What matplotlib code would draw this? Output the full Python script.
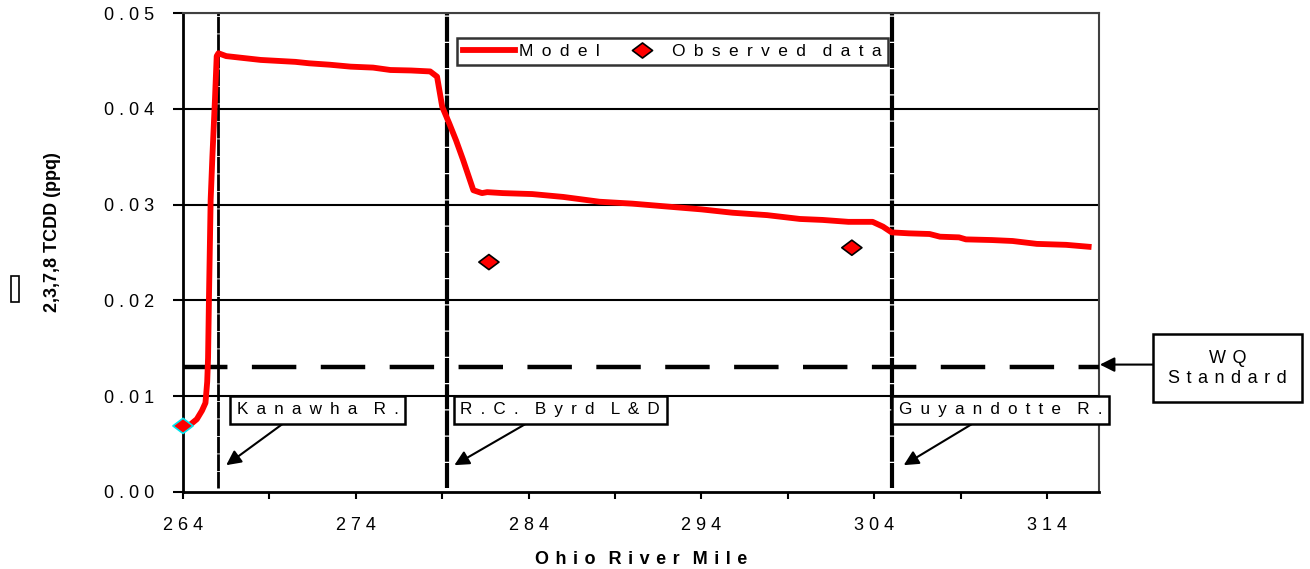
import numpy as np
import matplotlib
matplotlib.use('Agg')
import matplotlib.pyplot as plt
from matplotlib.path import Path
from matplotlib.patches import Rectangle

plt.rcParams['font.family'] = ['Liberation Sans', 'DejaVu Sans']

# model profile
model_mile = [264.0, 264.4, 264.8, 265.1, 265.3, 265.4, 265.45, 265.5, 265.6, 265.7,
              265.85, 265.95, 266.05, 266.5, 267.5, 268.5, 269.5, 270.5, 271.3, 272.5,
              273.7, 275.0, 276.0, 277.2, 278.3, 278.7, 279.0, 279.4, 279.8, 280.2,
              280.8, 281.3, 281.6, 282.5, 284.2, 286.0, 288.1, 290.0, 292.0, 294.0,
              295.8, 297.8, 299.7, 301.0, 302.5, 303.9, 304.5, 305.0, 306.0, 307.2,
              307.8, 308.9, 309.3, 310.8, 312.0, 313.4, 315.1, 316.4]
model_val = [0.0069, 0.0070, 0.0076, 0.0085, 0.0093, 0.0115, 0.0140, 0.0200, 0.0305, 0.0350,
             0.0410, 0.0455, 0.0458, 0.0455, 0.0453, 0.0451, 0.0450, 0.0449, 0.04475, 0.0446,
             0.0444, 0.0443, 0.04405, 0.0440, 0.0439, 0.04335, 0.0402, 0.0385, 0.0367, 0.0347,
             0.0315, 0.0312, 0.0313, 0.0312, 0.0311, 0.0308, 0.0303, 0.0301, 0.0298, 0.0295,
             0.02915, 0.0289, 0.0285, 0.0284, 0.0282, 0.0282, 0.0277, 0.0271, 0.0270, 0.02693,
             0.02665, 0.02658, 0.02637, 0.0263, 0.0262, 0.0259, 0.0258, 0.0256]

obs_mile = [264.0, 281.7, 302.7]
obs_val = [0.0069, 0.0240, 0.0255]
obs_edge = ['#00e5ee', 'black', 'black']

wq_standard = 0.013
river_mile = [266.0, 279.3, 305.0]
river_lw = [2.0, 3.0, 3.0]
river_names = ['Kanawha R.', 'R.C. Byrd L&D', 'Guyandotte R.']
label_pos = [(267.1, 0.0086), (280.05, 0.0086), (305.4, 0.0086)]
arrow_from = [(271.2, 0.0090), (284.3, 0.0076), (310.3, 0.0078)]
arrow_to = [(266.5, 0.0028), (279.7, 0.0028), (305.7, 0.0028)]

x_ticks = np.arange(264, 316, 5)
y_ticks = [0.0, 0.01, 0.02, 0.03, 0.04, 0.05]

GAP = ' \u2009'
NARROW = ' \u200a'


def spaced(s, gap=GAP):
    # wide letter spacing like the original chart
    words = s.split(' ')
    return (gap + gap).join(gap.join(w) for w in words)


# flat diamond like the original marker
diamond = Path([(-1, 0), (0, 0.75), (1, 0), (0, -0.75), (-1, 0)],
               [Path.MOVETO, Path.LINETO, Path.LINETO, Path.LINETO, Path.CLOSEPOLY])

fig = plt.figure(figsize=(13.1, 5.69), dpi=100)
ax = fig.add_axes([183/1310, 1-492/569, 916/1310, 479/569])

for v in y_ticks[1:]:
    ax.axhline(v, color='black', lw=1.5, zorder=1)

for m, lw in zip(river_mile, river_lw):
    ax.plot([m, m], [0.0004, 0.05], color='black', lw=lw,
            linestyle=(0, (6, 0.3)), zorder=2)

ax.plot([264, 317], [wq_standard, wq_standard], color='black', lw=3.2,
        linestyle=(0, (10, 5.5)), zorder=3)

ax.plot(model_mile, model_val, color='red', lw=4.2, solid_joinstyle='round',
        zorder=4, label=spaced('Model'))
ax.scatter(obs_mile, obs_val, marker=diamond, s=14.5**2, facecolor='red',
           edgecolors=obs_edge, linewidths=1.2, zorder=5, clip_on=False)
ax.plot([], [], linestyle='none', marker=diamond, markersize=14.5,
        markerfacecolor='red', markeredgecolor='black', markeredgewidth=1.2,
        label=spaced('Observed data'))

for name, (tx, ty), a0, a1 in zip(river_names, label_pos, arrow_from, arrow_to):
    ax.annotate('', xy=a1, xytext=a0,
                arrowprops=dict(arrowstyle='-|>', color='black', lw=1.5,
                                mutation_scale=22, shrinkA=0, shrinkB=0), zorder=6)
    ax.text(tx, ty, spaced(name), fontsize=12.3, ha='left', va='center',
            bbox=dict(boxstyle='square,pad=0.38', facecolor='white', edgecolor='black', lw=1.8),
            zorder=7)

# water quality standard label outside the axes
ax.annotate('', xy=(317.05, 0.0133), xytext=(322.0, 0.0133), annotation_clip=False,
            arrowprops=dict(arrowstyle='-|>', color='black', lw=1.5,
                            mutation_scale=22, shrinkA=0, shrinkB=0))
ax.text(324.45, 0.0129, spaced('WQ', NARROW) + '\n' + spaced('Standard', NARROW), fontsize=13,
        ha='center', va='center', linespacing=1.25, clip_on=False,
        bbox=dict(boxstyle='square,pad=0.85', facecolor='white', edgecolor='black', lw=1.8))

ax.set_xlim(264, 317)
ax.set_ylim(0, 0.05)
ax.set_xticks(x_ticks)
ax.set_xticklabels([spaced(str(t), ' ') if (t - 264) % 10 == 0 else '' for t in x_ticks])
ax.set_yticks(y_ticks)
ax.set_yticklabels([spaced('%.2f' % v, ' ') for v in y_ticks])
ax.tick_params(axis='x', direction='out', length=5, width=1.5, pad=13, labelsize=13)
ax.tick_params(axis='y', direction='out', length=7, width=1.5, pad=14, labelsize=13)

for side in ['left', 'bottom']:
    ax.spines[side].set_linewidth(2)
for side in ['top', 'right']:
    ax.spines[side].set_linewidth(1.5)
    ax.spines[side].set_color('#404040')

ax.set_xlabel(spaced('Ohio River Mile', NARROW), fontsize=13, fontweight='bold', labelpad=12)
fig.text(53/1310, 1-232/569, '2,3,7,8 TCDD (ppq)', rotation=90, fontsize=13,
         fontweight='bold', ha='center', va='center')
fig.patches.append(Rectangle((11/1310, 1-302/569), 8/1310, 26/569,
                             transform=fig.transFigure, fill=False, lw=1.2,
                             edgecolor='black'))

leg = ax.legend(loc='upper left', bbox_to_anchor=(0.299, 0.948), ncol=2,
                fontsize=12.5, frameon=True, fancybox=False, borderaxespad=0,
                handlelength=3.0, handletextpad=0.25, columnspacing=0.9,
                borderpad=0.35)
leg.get_frame().set_edgecolor('black')
leg.get_frame().set_linewidth(1.8)

fig.savefig('out.png', dpi=100)
